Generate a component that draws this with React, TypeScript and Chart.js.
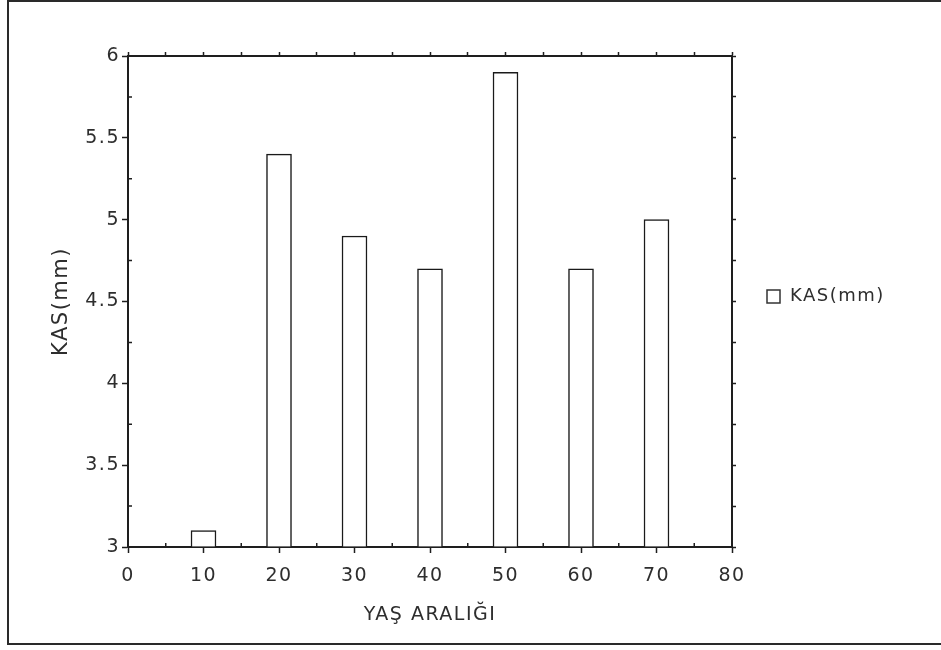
import React, { useEffect, useRef } from 'react';
import { Chart, registerables } from 'chart.js';

Chart.register(...registerables);

const AGE_GROUPS = [10, 20, 30, 40, 50, 60, 70];
const KAS_MM = [3.1, 5.4, 4.9, 4.7, 5.9, 4.7, 5.0];
const X_MAJOR_TICKS = [0, 10, 20, 30, 40, 50, 60, 70, 80];
const X_MINOR_TICKS = [5, 15, 25, 35, 45, 55, 65, 75];
const Y_MAJOR_TICKS = [3, 3.5, 4, 4.5, 5, 5.5, 6];
const Y_MINOR_TICKS = [3.25, 3.75, 4.25, 4.75, 5.25, 5.75];
const SERIES_LABEL = 'KAS(mm)';
const X_TITLE = 'YAŞ ARALIĞI';
const Y_TITLE = 'KAS(mm)';

const X_MIN = 0;
const X_MAX = 80;
const Y_MIN = 3;
const Y_MAX = 6;

const FONT = '"DejaVu Sans", "Liberation Sans", Arial, sans-serif';
const TEXT = '#2e2e2e';
const AXIS = '#1e1e1e';

export default function App() {
  const ref = useRef<HTMLCanvasElement | null>(null);

  useEffect(() => {
    const canvas = ref.current;
    if (!canvas) return;

    const spacingPlugin = {
      id: 'spacing',
      beforeDraw(chart: any) {
        try {
          (chart.ctx as any).letterSpacing = '1.5px';
        } catch (e) {}
      },
    };

    const minorTicks = {
      id: 'minorTicks',
      afterDraw(chart: any) {
        const ctx = chart.ctx;
        const xs = chart.scales.x;
        const ys = chart.scales.y;
        const area = chart.chartArea;
        ctx.save();
        ctx.strokeStyle = AXIS;
        ctx.lineWidth = 1.5;
        ctx.beginPath();
        X_MINOR_TICKS.forEach((v) => {
          const px = xs.getPixelForValue(v);
          ctx.moveTo(px, area.bottom);
          ctx.lineTo(px, area.bottom - 4);
        });
        Y_MINOR_TICKS.forEach((v) => {
          const py = ys.getPixelForValue(v);
          ctx.moveTo(area.left, py);
          ctx.lineTo(area.left + 4, py);
        });
        ctx.stroke();
        ctx.restore();
      },
    };

    const legendPlugin = {
      id: 'customLegend',
      afterDraw(chart: any) {
        const ctx = chart.ctx;
        const area = chart.chartArea;
        const ds = chart.data.datasets[0];
        const cy = (area.top + area.bottom) / 2 - 5;
        const bx = area.right + 35;
        ctx.save();
        ctx.fillStyle = '#ffffff';
        ctx.strokeStyle = '#333';
        ctx.lineWidth = 1.5;
        ctx.fillRect(bx, cy - 6.5, 13, 13);
        ctx.strokeRect(bx, cy - 6.5, 13, 13);
        ctx.fillStyle = TEXT;
        ctx.font = '18px ' + FONT;
        ctx.textAlign = 'left';
        ctx.textBaseline = 'middle';
        ctx.fillText(ds.label, bx + 23, cy);
        ctx.restore();
      },
    };

    const chart = new Chart(canvas, {
      type: 'bar',
      data: {
        datasets: [
          {
            label: SERIES_LABEL,
            data: AGE_GROUPS.map((x, i) => ({ x, y: KAS_MM[i] })),
            backgroundColor: '#ffffff',
            borderColor: '#1a1a1a',
            borderWidth: 1.5,
            borderSkipped: 'start',
            barThickness: 25,
            base: Y_MIN,
            xAxisID: 'x',
            yAxisID: 'y',
          } as any,
        ],
      },
      options: {
        animation: false,
        responsive: false,
        events: [],
        layout: { padding: { left: 9, top: 0, right: 0, bottom: 8 } },
        plugins: {
          legend: { display: false },
          tooltip: { enabled: false },
        },
        scales: {
          x: {
            type: 'linear',
            position: 'bottom',
            min: X_MIN,
            max: X_MAX,
            offset: false,
            afterBuildTicks: (s: any) => {
              s.ticks = X_MAJOR_TICKS.map((v) => ({ value: v }));
            },
            afterFit: (s: any) => {
              s.height = 95;
            },
            grid: {
              offset: false,
              drawOnChartArea: false,
              drawTicks: true,
              tickLength: 6,
              tickColor: AXIS,
              tickWidth: 1.5,
            },
            border: { display: true, color: AXIS, width: 2 },
            ticks: {
              autoSkip: false,
              maxRotation: 0,
              padding: 12,
              color: TEXT,
              font: { family: FONT, size: 19 },
              callback: (v: any) => String(v),
            },
            title: {
              display: true,
              text: X_TITLE,
              color: TEXT,
              font: { family: FONT, size: 19 },
              padding: { top: 0, bottom: 16 },
            },
          },
          x2: {
            type: 'linear',
            position: 'top',
            min: X_MIN,
            max: X_MAX,
            offset: false,
            afterBuildTicks: (s: any) => {
              s.ticks = [...X_MAJOR_TICKS, ...X_MINOR_TICKS].sort((a, b) => a - b).map((v) => ({ value: v }));
            },
            afterFit: (s: any) => {
              s.height = 56;
            },
            grid: {
              offset: false,
              drawOnChartArea: false,
              tickLength: 4,
              tickColor: AXIS,
              tickWidth: 1.5,
            },
            border: { display: true, color: AXIS, width: 2 },
            ticks: { autoSkip: false, callback: () => '' },
          },
          y: {
            type: 'linear',
            position: 'left',
            min: Y_MIN,
            max: Y_MAX,
            beginAtZero: false,
            afterBuildTicks: (s: any) => {
              s.ticks = Y_MAJOR_TICKS.map((v) => ({ value: v }));
            },
            afterFit: (s: any) => {
              s.width = 119;
            },
            grid: {
              drawOnChartArea: false,
              tickLength: 6,
              tickColor: AXIS,
              tickWidth: 1.5,
            },
            border: { display: true, color: AXIS, width: 2 },
            ticks: {
              autoSkip: false,
              padding: 2,
              color: TEXT,
              font: { family: FONT, size: 19 },
              callback: (v: any) => String(v),
            },
            title: {
              display: true,
              text: Y_TITLE,
              color: TEXT,
              font: { family: FONT, size: 21 },
              padding: { top: 40, bottom: 0 },
            },
          },
          y2: {
            type: 'linear',
            position: 'right',
            min: Y_MIN,
            max: Y_MAX,
            beginAtZero: false,
            afterBuildTicks: (s: any) => {
              s.ticks = [...Y_MAJOR_TICKS, ...Y_MINOR_TICKS].sort((a, b) => a - b).map((v) => ({ value: v }));
            },
            afterFit: (s: any) => {
              s.width = 209;
            },
            grid: {
              drawOnChartArea: false,
              tickLength: 4,
              tickColor: AXIS,
              tickWidth: 1.5,
            },
            border: { display: true, color: AXIS, width: 2 },
            ticks: { autoSkip: false, callback: () => '' },
          },
        },
      } as any,
      plugins: [spacingPlugin, minorTicks, legendPlugin],
    });

    return () => chart.destroy();
  }, []);

  return (
    <div
      style={{
        position: 'fixed',
        left: 0,
        top: 0,
        width: 941,
        height: 650,
        background: '#ffffff',
        overflow: 'hidden',
      }}
    >
      <canvas ref={ref} width={941} height={650} style={{ position: 'absolute', left: 0, top: 0 }} />
      <div
        style={{
          position: 'absolute',
          left: 7,
          top: 0,
          width: 960,
          height: 641,
          borderLeft: '2px solid #2a2a2a',
          borderTop: '2px solid #2a2a2a',
          borderBottom: '2px solid #2a2a2a',
          pointerEvents: 'none',
        }}
      />
    </div>
  );
}
